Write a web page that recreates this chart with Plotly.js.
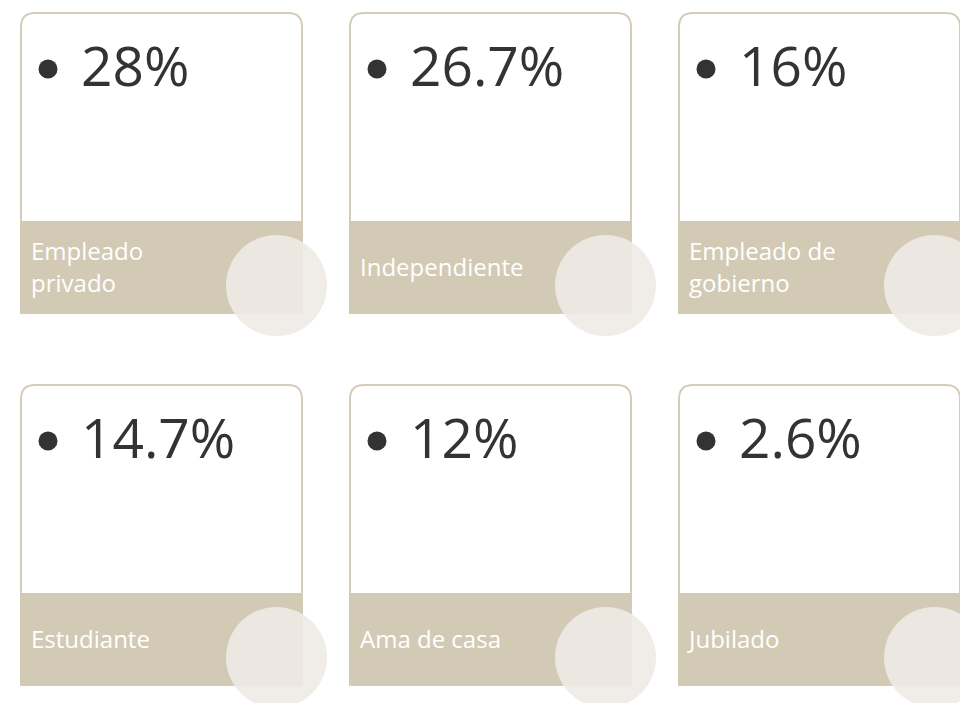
<!DOCTYPE html>
<html>
<head>
<meta charset="utf-8">
<script src="https://cdn.plot.ly/plotly-3.0.1.min.js"></script>
<style>html,body{margin:0;padding:0;background:#fff;}#chart{width:960px;height:703px;}</style>
</head>
<body>
<div id="chart"></div>
<script>
// Data
const categories = ["Empleado<br>privado", "Independiente", "Empleado de<br>gobierno", "Estudiante", "Ama de casa", "Jubilado"];
const values = [28, 26.7, 16, 14.7, 12, 2.6];

// Layout helpers (grid of cards, 3 columns x 2 rows)
const colStep = 329, rowStep = 372;
const col = i => i % 3, row = i => Math.floor(i / 3);

const shapes = [];
categories.forEach((c, i) => {
  const dx = col(i) * colStep, dy = row(i) * rowStep;
  const x0 = 21 + dx, x1 = 302 + dx, y0 = 13 + dy, yb = 221 + dy, y2 = 313 + dy, r = 14;
  shapes.push({type: 'path', xref: 'x', yref: 'y', layer: 'below',
    path: `M ${x0},${y2} L ${x0},${y0 + r} Q ${x0},${y0} ${x0 + r},${y0} L ${x1 - r},${y0} Q ${x1},${y0} ${x1},${y0 + r} L ${x1},${y2} Z`,
    fillcolor: '#ffffff', line: {color: '#d6cdb9', width: 2}});
  shapes.push({type: 'rect', xref: 'x', yref: 'y', layer: 'below',
    x0: 20 + dx, x1: 303 + dx, y0: yb, y1: y2, fillcolor: '#d3cab6', line: {width: 0}});
  shapes.push({type: 'circle', xref: 'x', yref: 'y', layer: 'below',
    x0: 226 + dx, x1: 327 + dx, y0: 235 + dy, y1: 336 + dy,
    fillcolor: 'rgba(238,235,229,0.9)', line: {width: 0}});
});

const bullets = {
  type: 'scatter', mode: 'markers', hoverinfo: 'skip', showlegend: false,
  x: values.map((v, i) => 48 + col(i) * colStep),
  y: values.map((v, i) => 69 + row(i) * rowStep),
  marker: {size: 19, color: '#333333'}
};
const valueText = {
  type: 'scatter', mode: 'text', hoverinfo: 'skip', showlegend: false,
  x: values.map((v, i) => 81 + col(i) * colStep),
  y: values.map((v, i) => 72 + row(i) * rowStep),
  text: values.map(v => v + '%'), textposition: 'middle right',
  textfont: {family: 'Open Sans', size: 55, color: '#333333'}
};
const labelText = {
  type: 'scatter', mode: 'text', hoverinfo: 'skip', showlegend: false,
  x: categories.map((c, i) => 31 + col(i) * colStep),
  y: categories.map((c, i) => 270 + row(i) * rowStep),
  text: categories, textposition: 'middle right',
  textfont: {family: 'Open Sans', size: 24, color: '#ffffff'}
};

const layout = {
  width: 960, height: 703, margin: {l: 0, r: 0, t: 0, b: 0},
  paper_bgcolor: '#ffffff', plot_bgcolor: '#ffffff',
  xaxis: {range: [0, 960], visible: false, fixedrange: true},
  yaxis: {range: [703, 0], visible: false, fixedrange: true},
  shapes: shapes, showlegend: false
};
Plotly.newPlot('chart', [bullets, valueText, labelText], layout, {displayModeBar: false, staticPlot: true});
</script>
</body>
</html>
